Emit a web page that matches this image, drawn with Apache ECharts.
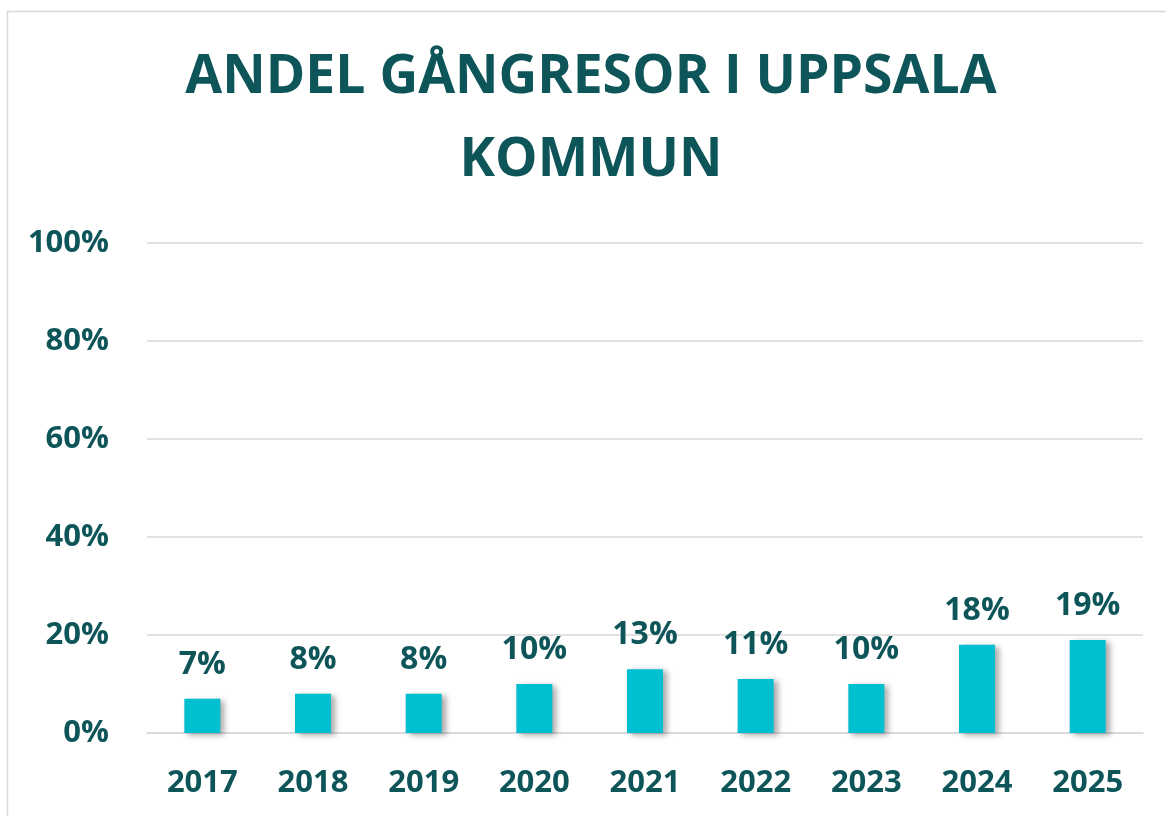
<!DOCTYPE html>
<html>
<head>
<meta charset="utf-8">
<script src="https://cdn.jsdelivr.net/npm/echarts@6/dist/echarts.min.js"></script>
<style>
html,body{margin:0;padding:0;background:#fff;}
#c{width:1166px;height:816px;}
</style>
</head>
<body>
<div id="c"></div>
<script>
const titleText = 'ANDEL GÅNGRESOR I UPPSALA\nKOMMUN';
const categories = ['2017','2018','2019','2020','2021','2022','2023','2024','2025'];
const shareValues = [7, 8, 8, 10, 13, 11, 10, 18, 19];
const yTicks = [0, 20, 40, 60, 80, 100];

const textColor = '#0d5559';
const font = 'Open Sans';
const chart = echarts.init(document.getElementById('c'));
chart.setOption({
  animation: false,
  backgroundColor: '#fff',
  graphic: [{
    type: 'rect', silent: true, z: -10,
    shape: { x: 7.5, y: 11.5, width: 1200, height: 900 },
    style: { fill: 'none', stroke: '#d9d9d9', lineWidth: 1.5 }
  }],
  title: {
    text: titleText,
    left: 586, textAlign: 'center', top: 31,
    textStyle: { fontFamily: font, fontWeight: 'bold', fontSize: 53.5, lineHeight: 83, color: textColor }
  },
  grid: { left: 147, right: 23, top: 243, bottom: 83, containLabel: false },
  xAxis: {
    type: 'category', data: categories,
    axisLine: { show: true, lineStyle: { color: '#d9d9d9', width: 1.5 } },
    axisTick: { show: false },
    axisLabel: { margin: 35, fontFamily: font, fontWeight: 'bold', fontSize: 31, color: textColor }
  },
  yAxis: {
    type: 'value', min: 0, max: 100, interval: 20,
    axisLine: { show: false }, axisTick: { show: false },
    splitLine: { lineStyle: { color: '#d9d9d9', width: 1.5 } },
    axisLabel: {
      margin: 38, fontFamily: font, fontWeight: 'bold', fontSize: 31, color: textColor,
      formatter: v => yTicks.includes(v) ? v + '%' : ''
    }
  },
  series: [{
    type: 'bar', data: shareValues, barWidth: 36,
    itemStyle: { color: '#00bfd0', shadowColor: 'rgba(0,0,0,0.35)', shadowBlur: 6, shadowOffsetX: 4, shadowOffsetY: 2 },
    label: {
      show: true, position: 'top', distance: 18, formatter: '{c}%',
      fontFamily: font, fontWeight: 'bold', fontSize: 32, color: textColor
    }
  }]
});
</script>
</body>
</html>
